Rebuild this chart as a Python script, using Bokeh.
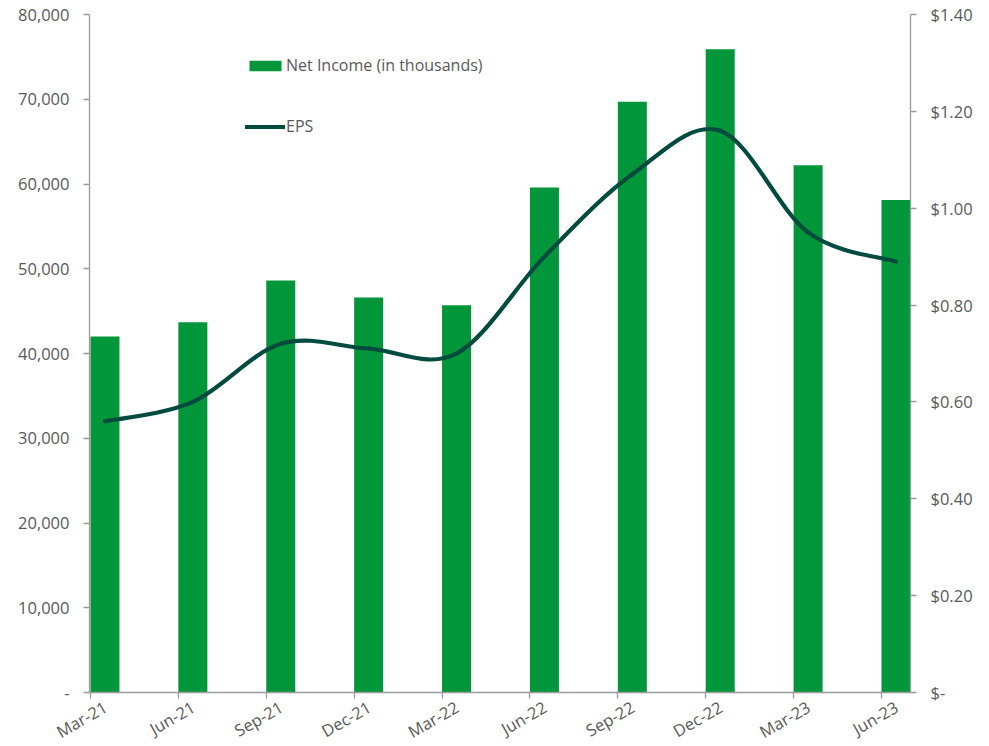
from bokeh.plotting import figure
from bokeh.models import (Range1d, LinearAxis, FixedTicker, NumeralTickFormatter,
                          ColumnDataSource, Legend, LegendItem)
from bokeh.transform import dodge
from bokeh.embed import file_html
from bokeh.resources import INLINE

# ---- data ----
quarters = ["Mar-21", "Jun-21", "Sep-21", "Dec-21", "Mar-22",
            "Jun-22", "Sep-22", "Dec-22", "Mar-23", "Jun-23"]
net_income = [42000, 43700, 48600, 46600, 45700, 59600, 69700, 75900, 62200, 58100]
eps = [0.56, 0.60, 0.72, 0.71, 0.70, 0.90, 1.07, 1.16, 0.95, 0.89]
left_ticks = [0, 10000, 20000, 30000, 40000, 50000, 60000, 70000, 80000]
right_ticks = [0, 0.2, 0.4, 0.6, 0.8, 1.0, 1.2, 1.4]

BAR = "#009639"
LINE = "#004B3F"
TXT = "#595959"
AX = "#9a9a9a"
FONT = "Open Sans"
FS = "16.5px"

n = len(quarters)
idx = list(range(n))
bar_w = 0.33
label_shift = 0.17

src = ColumnDataSource(dict(idx=idx, q=quarters, ni=net_income, eps=eps))

x_start, x_end = -0.011, n - 1 + 0.33
p = figure(frame_width=821, frame_height=678, output_backend="svg", toolbar_location=None,
           x_range=Range1d(x_start, x_end), y_range=Range1d(0, 80000),
           min_border_left=89, min_border_top=14, min_border_right=79, min_border_bottom=50)
p.extra_y_ranges = {"eps": Range1d(0, 1.4)}
p.extra_x_ranges = {"lab": Range1d(x_start - label_shift, x_end - label_shift)}
p.outline_line_color = None
p.grid.visible = False

bars = p.vbar(x=dodge("idx", bar_w / 2), top="ni", width=bar_w, source=src,
              fill_color=BAR, line_color=None)

# smooth (Catmull-Rom style) curve through the EPS points, as Bezier segments
xc = [i + bar_w / 2 for i in idx]
x0, y0, x1, y1, cx0, cy0, cx1, cy1 = [], [], [], [], [], [], [], []
for i in range(n - 1):
    pm = max(i - 1, 0)
    pn = min(i + 2, n - 1)
    x0.append(xc[i]); y0.append(eps[i])
    x1.append(xc[i + 1]); y1.append(eps[i + 1])
    cx0.append(xc[i] + (xc[i + 1] - xc[pm]) / 6)
    cy0.append(eps[i] + (eps[i + 1] - eps[pm]) / 6)
    cx1.append(xc[i + 1] - (xc[pn] - xc[i]) / 6)
    cy1.append(eps[i + 1] - (eps[pn] - eps[i]) / 6)
curve = p.bezier(x0=x0, y0=y0, x1=x1, y1=y1, cx0=cx0, cy0=cy0, cx1=cx1, cy1=cy1,
                 y_range_name="eps", line_color=LINE, line_width=4.2, line_cap="round")

def style_axis(ax):
    ax.axis_line_color = AX
    ax.axis_line_width = 1.3
    ax.major_tick_line_color = AX
    ax.major_tick_line_width = 1.3
    ax.major_tick_out = 6
    ax.major_tick_in = 0
    ax.minor_tick_line_color = None
    ax.major_label_text_color = TXT
    ax.major_label_text_font = FONT
    ax.major_label_text_font_size = FS

# left axis
la = p.yaxis[0]
la.ticker = FixedTicker(ticks=left_ticks)
la.formatter = NumeralTickFormatter(format="0,0")
la.major_label_overrides = {0: "-"}
la.major_label_standoff = 14
style_axis(la)

# right axis
ra = LinearAxis(y_range_name="eps", ticker=FixedTicker(ticks=right_ticks),
                formatter=NumeralTickFormatter(format="$0.00"))
ra.major_label_overrides = {0: "$-"}
ra.major_label_standoff = 14
style_axis(ra)
p.add_layout(ra, "right")

# bottom axis: line + tick marks only
xa = p.xaxis[0]
xa.ticker = FixedTicker(ticks=idx)
xa.major_label_overrides = {i: "" for i in idx}
xa.major_label_standoff = 0
style_axis(xa)
xa.major_label_text_font_size = "0px"

# bottom labels (rotated), slightly offset to the right like the original
xl = LinearAxis(x_range_name="lab", ticker=FixedTicker(ticks=idx))
xl.major_label_overrides = {i: q for i, q in zip(idx, quarters)}
xl.major_label_orientation = 0.52
xl.major_label_standoff = 1
xl.axis_line_color = None
xl.major_tick_line_color = None
xl.minor_tick_line_color = None
xl.major_label_text_color = TXT
xl.major_label_text_font = FONT
xl.major_label_text_font_size = FS
p.add_layout(xl, "below")

legend = Legend(items=[LegendItem(label="Net Income (in thousands)", renderers=[bars]),
                       LegendItem(label="EPS", renderers=[curve])],
                location=(156, 555), glyph_width=40, glyph_height=13, label_height=13,
                spacing=39, padding=0, margin=0, label_standoff=1,
                border_line_alpha=0, background_fill_alpha=0,
                label_text_font=FONT, label_text_font_size="16px", label_text_color=TXT)
p.add_layout(legend)

open("out.html", "w").write(file_html(p, INLINE))
